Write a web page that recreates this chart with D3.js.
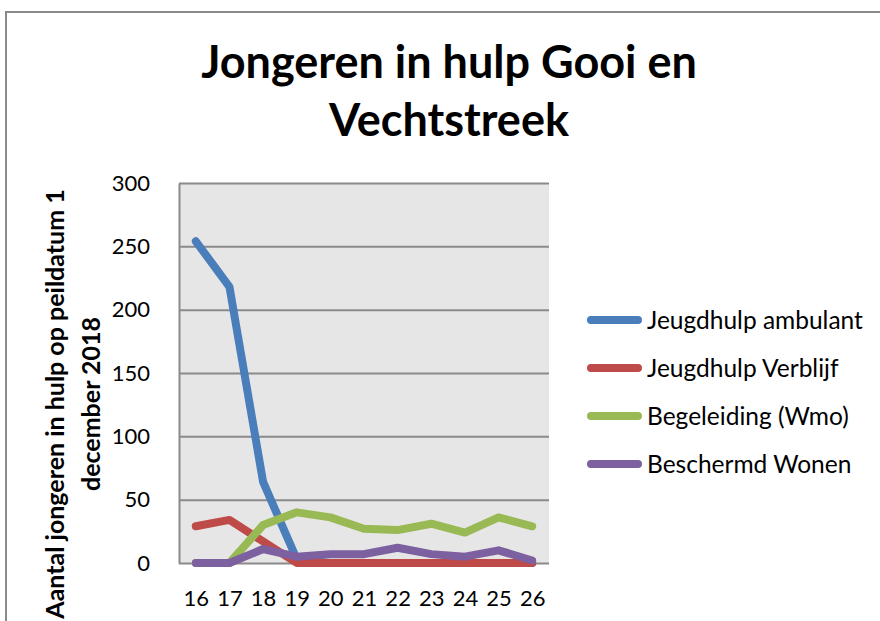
<!DOCTYPE html>
<html>
<head>
<meta charset="utf-8">
<script src="https://cdn.jsdelivr.net/npm/d3@7"></script>
<style>
  body { margin: 0; background: #fff; }
  text { font-family: Lato, "Open Sans", sans-serif; fill: #000; }
</style>
</head>
<body>
<div id="vis"></div>
<script>
// ages on the x axis
var ages = ['16', '17', '18', '19', '20', '21', '22', '23', '24', '25', '26'];

// one array per series
var ambulant = [254, 218, 64, 3, 0, 0, 0, 0, 0, 0, 0];
var verblijf = [29, 34, 17, 0, 0, 0, 0, 0, 0, 0, 0];
var begeleiding = [0, 0, 30, 40, 36, 27, 26, 31, 24, 36, 29];
var beschermd = [0, 0, 11, 5, 7, 7, 12, 7, 5, 10, 2];

var seriesNames = ['Jeugdhulp ambulant', 'Jeugdhulp Verblijf', 'Begeleiding (Wmo)', 'Beschermd Wonen'];
var seriesColors = ['#4a7ebb', '#be4b48', '#98b954', '#7d60a0'];
var yTicks = [0, 50, 100, 150, 200, 250, 300];

var title = ['Jongeren in hulp Gooi en', 'Vechtstreek'];
var yLabel = ['Aantal jongeren in hulp op peildatum 1', 'december 2018'];

var width = 880, height = 621;
var plot = { left: 179, right: 549, top: 183, bottom: 563 };

var series = [ambulant, verblijf, begeleiding, beschermd].map(function (vals, i) {
  return { name: seriesNames[i], color: seriesColors[i], values: vals };
});

var svg = d3.select('#vis').append('svg')
  .attr('width', width)
  .attr('height', height);

// chart frame
svg.append('rect')
  .attr('x', 6).attr('y', 12)
  .attr('width', width + 20).attr('height', height + 20)
  .attr('fill', '#fff')
  .attr('stroke', '#8a8a8a')
  .attr('stroke-width', 2);

// title
svg.append('g').selectAll('text')
  .data(title)
  .enter().append('text')
  .attr('x', 449)
  .attr('y', function (d, i) { return 78 + i * 58; })
  .attr('text-anchor', 'middle')
  .attr('font-size', 45)
  .attr('font-weight', 'bold')
  .text(function (d) { return d; });

var x = d3.scalePoint()
  .domain(ages)
  .range([plot.left, plot.right])
  .padding(0.5);

var y = d3.scaleLinear()
  .domain([0, 300])
  .range([plot.bottom, plot.top]);

var g = svg.append('g');

// plot background
g.append('rect')
  .attr('x', plot.left).attr('y', plot.top)
  .attr('width', plot.right - plot.left)
  .attr('height', plot.bottom - plot.top)
  .attr('fill', '#e6e6e6');

// y axis with gridlines
var yAxis = g.append('g')
  .attr('transform', 'translate(' + plot.left + ',0)')
  .call(d3.axisLeft(y)
    .tickValues(yTicks)
    .tickSizeInner(-(plot.right - plot.left))
    .tickSizeOuter(0)
    .tickPadding(29));
yAxis.selectAll('line').attr('stroke', '#8a8a8a').attr('stroke-width', 2);
yAxis.select('.domain').attr('stroke', '#8a8a8a').attr('stroke-width', 2);
yAxis.selectAll('text')
  .attr('font-size', 22)
  .attr('font-family', 'Lato, sans-serif')
  .attr('fill', '#000');

// x axis labels
var xAxis = g.append('g')
  .attr('transform', 'translate(0,' + plot.bottom + ')')
  .call(d3.axisBottom(x).tickSize(0).tickPadding(27));
xAxis.select('.domain').remove();
xAxis.selectAll('text')
  .attr('font-size', 22)
  .attr('font-family', 'Lato, sans-serif')
  .attr('fill', '#000');

// y axis title, two lines rotated
svg.append('g')
  .attr('transform', 'translate(0,404) rotate(-90)')
  .selectAll('text')
  .data(yLabel)
  .enter().append('text')
  .attr('x', 0)
  .attr('y', function (d, i) { return 64 + i * 36; })
  .attr('text-anchor', 'middle')
  .attr('font-size', 25)
  .attr('font-weight', 'bold')
  .text(function (d) { return d; });

// series lines
var line = d3.line()
  .x(function (d, i) { return x(ages[i]); })
  .y(function (d) { return y(d); });

g.selectAll('.series')
  .data(series)
  .enter().append('path')
  .attr('class', 'series')
  .attr('d', function (d) { return line(d.values); })
  .attr('fill', 'none')
  .attr('stroke', function (d) { return d.color; })
  .attr('stroke-width', 8)
  .attr('stroke-linecap', 'round')
  .attr('stroke-linejoin', 'round');

// legend
var legend = svg.append('g').selectAll('g')
  .data(series)
  .enter().append('g')
  .attr('transform', function (d, i) { return 'translate(587,' + (320 + i * 48) + ')'; });

legend.append('line')
  .attr('x1', 4).attr('x2', 51)
  .attr('stroke', function (d) { return d.color; })
  .attr('stroke-width', 8)
  .attr('stroke-linecap', 'round');

legend.append('text')
  .attr('x', 60)
  .attr('dy', '0.35em')
  .attr('font-size', 24.5)
  .text(function (d) { return d.name; });
</script>
</body>
</html>
